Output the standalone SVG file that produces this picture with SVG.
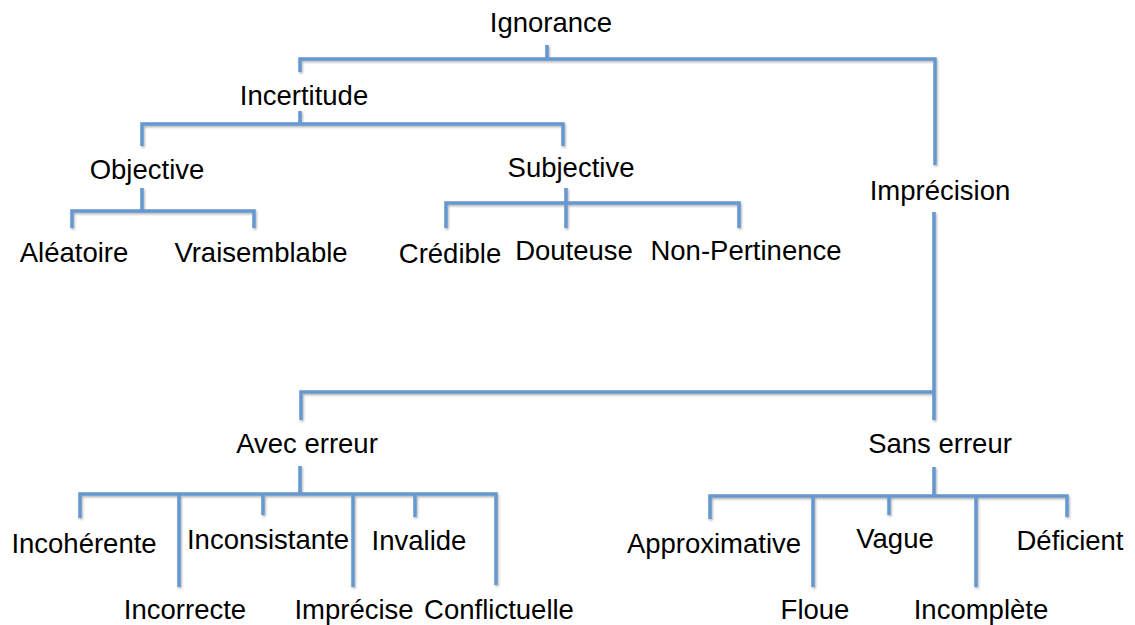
<svg xmlns="http://www.w3.org/2000/svg" width="1135" height="625" viewBox="0 0 1135 625">
<style>
text{font-family:"Liberation Sans",Arial,Helvetica,sans-serif;font-size:27.5px;fill:#000;text-anchor:middle}
.c{fill:none;stroke:#6698cf;stroke-width:3.5;stroke-linecap:butt;stroke-linejoin:miter}
</style>
<defs>
<filter id="sh" x="-5%" y="-5%" width="110%" height="110%">
<feDropShadow dx="1" dy="1.5" stdDeviation="0.8" flood-color="#000" flood-opacity="0.3"/>
</filter>
</defs>
<rect width="1135" height="625" fill="#fff"/>
<g id="connectors" class="c" filter="url(#sh)">
<path d="M547 45V59M300 72V59H935V165"/>
<path d="M300 111V124M142 146V124H563V146"/>
<path d="M142 188V211M72 228V211H254V228"/>
<path d="M566 188V228M446 228V203H739V228"/>
<path d="M934 212V420M934 392H301V420"/>
<path d="M300 466V495M80 518V494H496V585M179 587V495M263 515V495M353 587V495M415 517V495"/>
<path d="M934 467V496M710 519V496H1067V517M813 587V496M889 515V496M976 587V496"/>
</g>
<g id="n-ignorance"><text x="551" y="32">Ignorance</text></g>
<g id="n-incertitude"><text x="304" y="105">Incertitude</text></g>
<g id="n-imprecision"><text x="940" y="200">Imprécision</text></g>
<g id="n-objective"><text x="147" y="179">Objective</text></g>
<g id="n-subjective"><text x="571" y="177">Subjective</text></g>
<g id="n-aleatoire"><text x="74" y="262">Aléatoire</text></g>
<g id="n-vraisemblable"><text x="261" y="262">Vraisemblable</text></g>
<g id="n-credible"><text x="450" y="263">Crédible</text></g>
<g id="n-douteuse"><text x="574" y="260">Douteuse</text></g>
<g id="n-nonpertinence"><text x="746" y="260">Non-Pertinence</text></g>
<g id="n-avecerreur"><text x="307" y="453">Avec erreur</text></g>
<g id="n-sanserreur"><text x="940" y="453">Sans erreur</text></g>
<g id="n-incoherente"><text x="84" y="553">Incohérente</text></g>
<g id="n-inconsistante"><text x="268" y="549">Inconsistante</text></g>
<g id="n-invalide"><text x="419" y="550">Invalide</text></g>
<g id="n-incorrecte"><text x="185" y="619">Incorrecte</text></g>
<g id="n-imprecise"><text x="354" y="619">Imprécise</text></g>
<g id="n-conflictuelle"><text x="499" y="619">Conflictuelle</text></g>
<g id="n-approximative"><text x="714" y="553">Approximative</text></g>
<g id="n-vague"><text x="895" y="548">Vague</text></g>
<g id="n-deficient"><text x="1070" y="550">Déficient</text></g>
<g id="n-floue"><text x="815" y="619">Floue</text></g>
<g id="n-incomplete"><text x="981" y="619">Incomplète</text></g>
</svg>
